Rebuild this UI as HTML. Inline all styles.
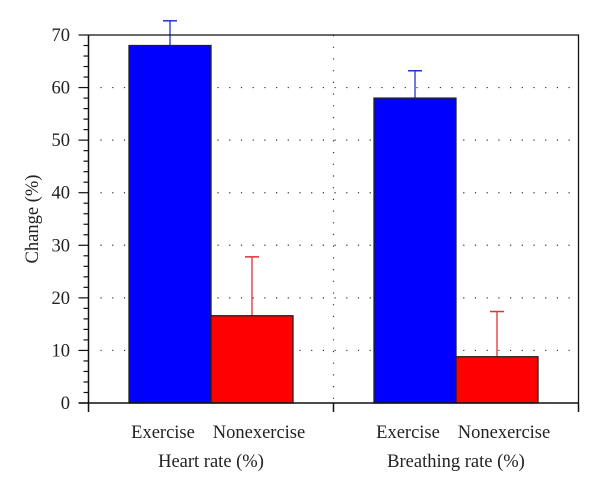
<!DOCTYPE html>
<html><head><meta charset="utf-8"><style>
body{margin:0;background:#fff}
svg{display:block;font-family:"Liberation Serif",serif}
</style></head><body>
<svg id="c" width="600" height="494"></svg>
<script>
const groups=["Heart rate (%)","Breathing rate (%)"];
const cats=["Exercise","Nonexercise"];
const exerciseVals=[68,58];
const nonexerciseVals=[16.6,8.8];
const exerciseErr=[4.7,5.2];
const nonexerciseErr=[11.2,8.6];
const yTicks=[0,10,20,30,40,50,60,70];
const NS="http://www.w3.org/2000/svg";
const svg=document.getElementById('c');
const L=88.5,R=578.5,T=35,B=403,yMax=70;
const y=v=>B-(v/yMax)*(B-T);
const gw=(R-L)/2;
const gx=i=>L+gw*i;
const labelShift=[-7,7];
function el(t,a,p){const e=document.createElementNS(NS,t);for(const k in a)e.setAttribute(k,a[k]);(p||svg).appendChild(e);return e;}
yTicks.forEach(v=>{if(v>0&&v<yMax){const g=el('line',{x1:L+12,x2:R,y1:y(v),y2:y(v),stroke:'#333','stroke-width':1.2,'stroke-dasharray':'1.2 10.5'});

}});
const vg=el('line',{x1:gx(1),x2:gx(1),y1:T,y2:B,stroke:'#333','stroke-width':1.2,'stroke-dasharray':'1.2 10.5'});


const colors=['#0000ff','#ff0000'],errc=['#2233cc','#dd3333'];
const series=[exerciseVals,nonexerciseVals],errs=[exerciseErr,nonexerciseErr];
const bw=82;
groups.forEach((g,i)=>{
  const start=gx(i)+(gw-2*bw)/2;
  series.forEach((s,j)=>{
    const x=start+j*bw,cx=x+bw/2,top=y(s[i]+errs[j][i]);
    const e=el('line',{x1:cx,x2:cx,y1:top,y2:y(s[i]),stroke:errc[j],'stroke-width':1.3});
    
    
    const c=el('line',{x1:cx-7,x2:cx+7,y1:top,y2:top,stroke:errc[j],'stroke-width':1.5});
    
    
    const r=el('rect',{x:x,y:y(s[i]),width:bw,height:B-y(s[i]),fill:colors[j],stroke:'#222','stroke-width':1.3});
    
    
    const t=el('text',{x:cx+labelShift[j],y:438,'text-anchor':'middle','font-size':18.5,fill:'#222'});
    t.textContent=cats[j];
    
    
  });
  const gl=el('text',{x:start+bw,y:467,'text-anchor':'middle','font-size':18.5,fill:'#222'});
  gl.textContent=g;
  
  
});
const fr=el('path',{d:`M${L} ${T}H${R}V${B}`,fill:'none',stroke:'#111','stroke-width':1.3});


const ya=el('line',{x1:L,x2:L,y1:T,y2:412,stroke:'#111','stroke-width':1.5});


const xa=el('line',{x1:L-10,x2:R,y1:B,y2:B,stroke:'#111','stroke-width':1.5});


[1,2].forEach(i=>{const t=el('line',{x1:gx(i),x2:gx(i),y1:B,y2:412,stroke:'#111','stroke-width':1.5});

});
for(let v=0;v<=yMax;v+=2){const major=v%10===0;
 const t=el('line',{x1:major?L-10:L-5,x2:L,y1:y(v),y2:y(v),stroke:'#111','stroke-width':1.2});
 
 }
yTicks.forEach(v=>{const t=el('text',{x:70,y:y(v)+6,'text-anchor':'end','font-size':18.5,fill:'#222'});
 t.textContent=v;
 
 });
const yt=el('text',{x:0,y:0,transform:'translate(38 219) rotate(-90)','text-anchor':'middle','font-size':18.5,fill:'#222'});
yt.textContent='Change (%)';


</script>
</body></html>
